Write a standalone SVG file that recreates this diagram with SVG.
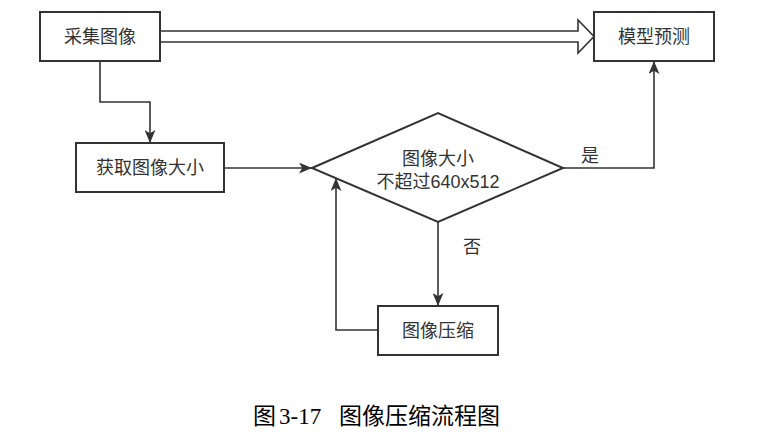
<svg xmlns="http://www.w3.org/2000/svg" width="760" height="441" viewBox="0 0 760 441">
<style>
.box{fill:#fff;stroke:#333;stroke-width:2}
.lbl{font-family:"Liberation Sans","Noto Sans CJK SC",sans-serif;font-size:18px;fill:#333;text-anchor:middle;dominant-baseline:central}
.ln{fill:none;stroke:#333;stroke-width:1.6}
.cap{font-family:"Liberation Serif","Noto Sans CJK SC",serif;font-size:23px;fill:#000}
</style>
<defs>
<marker id="arr" viewBox="0 0 12 10" refX="12" refY="5" markerWidth="13" markerHeight="11" markerUnits="userSpaceOnUse" orient="auto">
<path d="M0,0 L12,5 L0,10 L3,5 Z" fill="#333"/>
</marker>
</defs>
<rect width="760" height="441" fill="#fff"/>
<g id="connectors">
<path d="M160,31 L578,31 L578,20 L594,36.5 L578,53 L578,42 L160,42" fill="#fff" stroke="#333" stroke-width="1.6"/>
<path class="ln" d="M100,61 V102 H150 V143" marker-end="url(#arr)"/>
<path class="ln" d="M224,168 H312" marker-end="url(#arr)"/>
<path class="ln" d="M563,168 H654 V61" marker-end="url(#arr)"/>
<path class="ln" d="M438,222 V306" marker-end="url(#arr)"/>
<path class="ln" d="M378,330 H336 V178" marker-end="url(#arr)"/>
<text class="lbl" x="590" y="156">是</text>
<text class="lbl" x="472" y="247">否</text>
</g>
<g id="n1"><rect class="box" x="40" y="12" width="120" height="49"/><text class="lbl" x="100" y="37">采集图像</text></g>
<g id="n2"><rect class="box" x="594" y="12" width="120" height="49"/><text class="lbl" x="654" y="37">模型预测</text></g>
<g id="n3"><rect class="box" x="76" y="143" width="148" height="49"/><text class="lbl" x="150" y="168">获取图像大小</text></g>
<g id="n4"><polygon class="box" points="312,168 438,113 563,168 438,222"/><text class="lbl" x="438" y="159">图像大小</text><text class="lbl" x="438" y="182">不超过640x512</text></g>
<g id="n5"><rect class="box" x="378" y="306" width="120" height="49"/><text class="lbl" x="438" y="331">图像压缩</text></g>
<text class="cap" x="253" y="424">图</text>
<text class="cap" x="279" y="424">3-17</text>
<text class="cap" x="339" y="424">图像压缩流程图</text>
</svg>
